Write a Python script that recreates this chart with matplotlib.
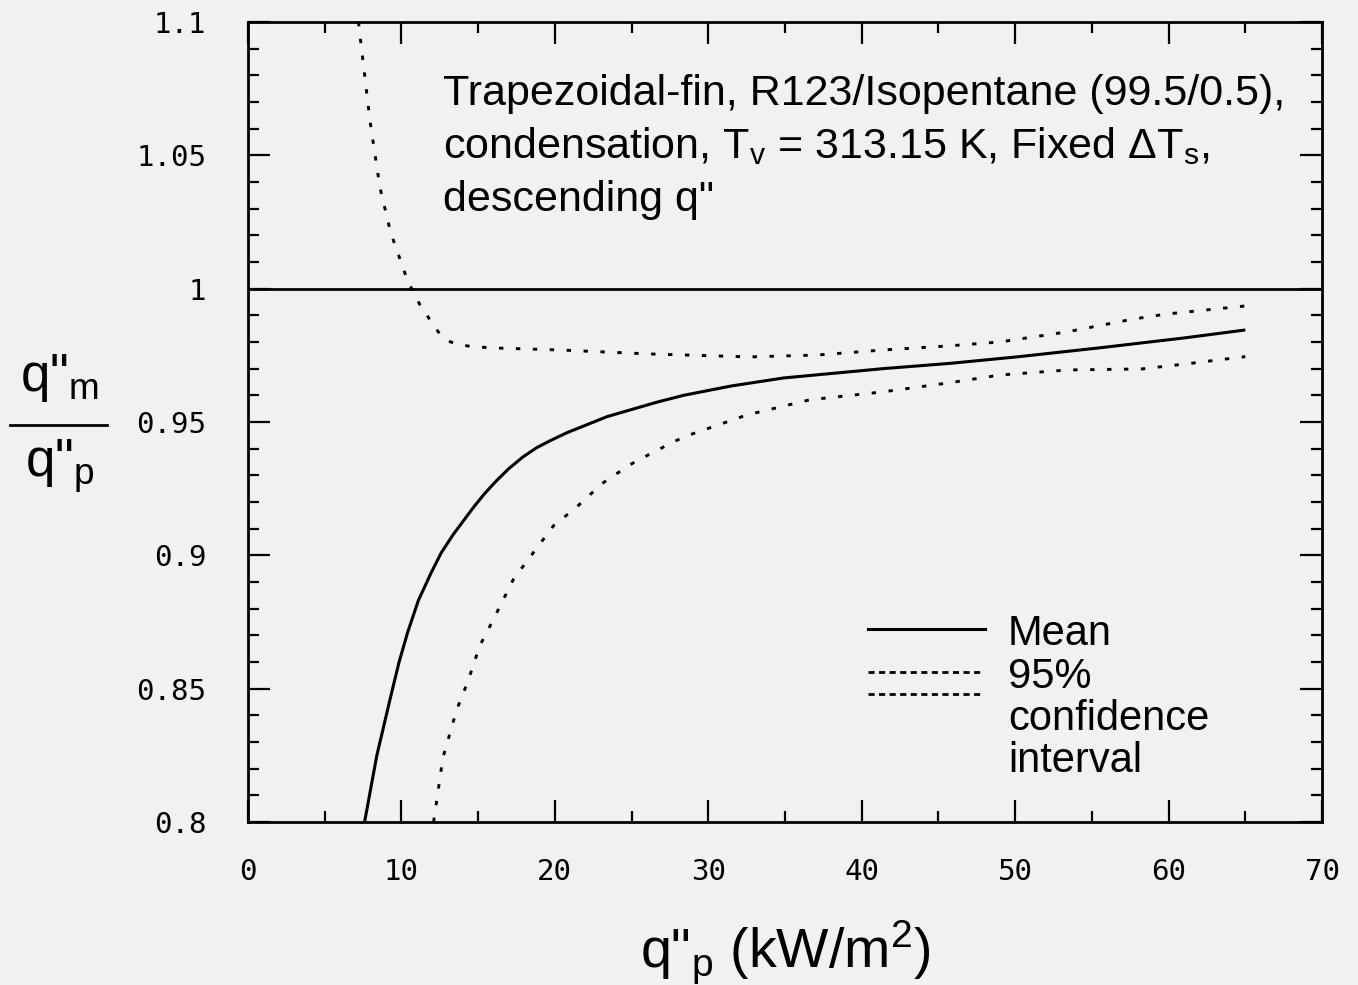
import numpy as np
import matplotlib.pyplot as plt
from matplotlib.lines import Line2D

plt.rcParams['font.family'] = ['Liberation Sans', 'DejaVu Sans']
plt.rcParams['mathtext.fontset'] = 'custom'
plt.rcParams['mathtext.rm'] = 'Liberation Sans'
plt.rcParams['mathtext.it'] = 'Liberation Sans:italic'

# mean curve
mean_x = [7.6, 8.4, 9.3, 9.85, 10.4, 11.1, 11.9, 12.6, 13.4, 14.7, 15.4, 16.2,
          17.0, 17.9, 18.8, 19.7, 20.8, 23.4, 26.7, 28.4, 31.5, 34.9, 41.4, 45.8,
          50.1, 55.5, 61.0, 65.0]
mean_y = [0.800, 0.825, 0.847, 0.860, 0.871, 0.883, 0.893, 0.901, 0.908, 0.918,
          0.923, 0.928, 0.9325, 0.9368, 0.9403, 0.943, 0.946, 0.952, 0.9575, 0.960,
          0.9635, 0.9665, 0.970, 0.972, 0.9744, 0.9778, 0.9815, 0.9845]

# upper 95% bound
up_x = [7.2, 7.95, 8.6, 9.3, 10.4, 11.2, 11.9, 12.5, 13.2, 14.3, 15.8, 20.3,
        26.2, 32.7, 37.1, 41.4, 45.6, 49.0, 53.4, 57.7, 59.9, 64.3, 65.0]
up_y = [1.100, 1.063, 1.038, 1.021, 1.003, 0.994, 0.988, 0.983, 0.980, 0.9785,
        0.9778, 0.977, 0.9755, 0.9744, 0.9751, 0.977, 0.9785, 0.980, 0.9838,
        0.9886, 0.9905, 0.9931, 0.9935]

# lower 95% bound
lo_x = [12.1, 12.7, 13.6, 14.35, 15.1, 16.0, 17.3, 18.6, 19.9, 21.4, 23.1, 24.9,
        26.7, 28.4, 32.5, 36.6, 41.4, 45.6, 49.0, 53.4, 58.3, 61.6, 65.0]
lo_y = [0.800, 0.824, 0.842, 0.853, 0.866, 0.876, 0.891, 0.901, 0.911, 0.918,
        0.927, 0.934, 0.9395, 0.9444, 0.9526, 0.9583, 0.9613, 0.9646, 0.9676,
        0.9695, 0.9699, 0.9721, 0.9745]

x_ticks = [0, 10, 20, 30, 40, 50, 60, 70]
y_ticks = [0.8, 0.85, 0.9, 0.95, 1.0, 1.05, 1.1]
y_labels = ['0.8', '0.85', '0.9', '0.95', '1', '1.05', '1.1']

bg = '#f1f1f1'
fig = plt.figure(figsize=(13.58, 9.85), dpi=100, facecolor=bg)
ax = fig.add_axes([0.1826, 0.1655, 0.7909, 0.8122])
ax.set_facecolor(bg)

ax.axhline(1.0, color='k', lw=2)
dot = (0, (1.5, 4.3))
ax.plot(mean_x, mean_y, color='k', lw=2.2, solid_capstyle='butt',
        solid_joinstyle='round')
ax.plot(up_x, up_y, color='k', lw=2.1, linestyle=dot)
ax.plot(lo_x, lo_y, color='k', lw=2.1, linestyle=dot)

ax.set_xlim(0, 70)
ax.set_ylim(0.8, 1.1)
ax.set_xticks(x_ticks)
ax.set_xticks(np.arange(5, 70, 10), minor=True)
ax.set_yticks(y_ticks)
ax.set_yticklabels(y_labels)
ax.set_yticks(np.arange(0.81, 1.1, 0.01), minor=True)
ax.tick_params(which='both', direction='in', top=True, right=True, width=1.6, colors='k')
ax.tick_params(which='major', length=16)
ax.tick_params(which='minor', length=8)
ax.tick_params(axis='x', which='major', pad=26)
ax.tick_params(axis='y', which='major', pad=30)
for lab in ax.get_xticklabels() + ax.get_yticklabels():
    lab.set_fontfamily('DejaVu Sans Mono')
    lab.set_fontsize(21)
for s in ax.spines.values():
    s.set_linewidth(2)

# annotation
note = ['Trapezoidal-fin, R123/Isopentane (99.5/0.5),',
        'condensation, T$_\\mathrm{v}$ = 313.15 K, Fixed \u0394T$_\\mathrm{s}$,',
        'descending q"']
for i, t in enumerate(note):
    ax.text(0.1816, 0.896 - i * 0.066, t, transform=ax.transAxes, fontsize=31,
            va='baseline', ha='left')

# legend drawn by hand
ax.plot([0.577, 0.686], [0.241, 0.241], transform=ax.transAxes, color='k', lw=2.2)
for yy in [0.1875, 0.16]:
    ax.plot([0.577, 0.684], [yy, yy], transform=ax.transAxes, color='k', lw=2,
            linestyle=(0, (2.2, 1.6)))
leg_text = ['Mean', '95%', 'confidence', 'interval']
for i, t in enumerate(leg_text):
    ax.text(0.7077, 0.221 - i * 0.053, t, transform=ax.transAxes, fontsize=30,
            va='baseline', ha='left')

# axis labels
fig.text(0.578, 0.0183, 'q"$_\\mathrm{p}$ (kW/m$^\\mathrm{2}$)', fontsize=40,
         ha='center', va='baseline')
fig.text(0.044, 0.603, 'q"$_\\mathrm{m}$', fontsize=38, ha='center', va='baseline')
fig.text(0.044, 0.516, 'q"$_\\mathrm{p}$', fontsize=38, ha='center', va='baseline')
fig.add_artist(Line2D([0.0074, 0.0788], [0.5685, 0.5685], color='k', lw=2))

fig.savefig('out.png', dpi=100, facecolor=bg)
